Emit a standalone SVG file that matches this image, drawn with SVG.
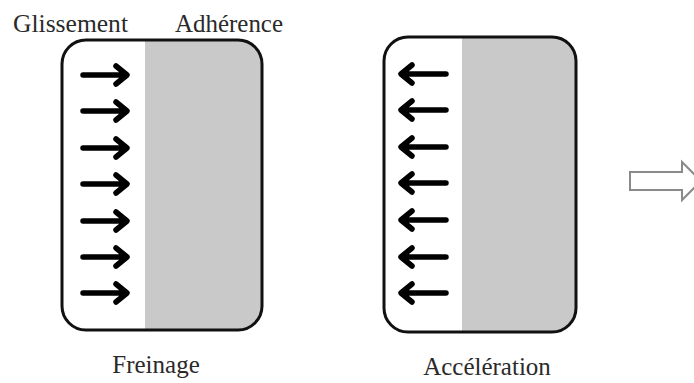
<svg xmlns="http://www.w3.org/2000/svg" width="694" height="383" viewBox="0 0 694 383">
<defs>
<style>
.lbl{font-family:"Liberation Serif","Times New Roman",serif;font-size:25px;fill:#2a2a2a}
.box{fill:none;stroke:#111;stroke-width:3}
.gray{fill:#c9c9c9}
.arr{fill:none;stroke:#000;stroke-width:5.5;stroke-linecap:round;stroke-linejoin:round}
.hollow{fill:#fff;stroke:#8a8a8a;stroke-width:2}
</style>
<clipPath id="c1"><rect x="62" y="40" width="200" height="290" rx="24"/></clipPath>
<clipPath id="c2"><rect x="384" y="37" width="192" height="295" rx="24"/></clipPath>
</defs>
<rect width="694" height="383" fill="#fff"/>
<g id="labels-top">
<text class="lbl" x="13" y="32" textLength="115" lengthAdjust="spacingAndGlyphs">Glissement</text>
<text class="lbl" x="175" y="32" textLength="108" lengthAdjust="spacingAndGlyphs">Adhérence</text>
</g>
<g id="freinage">
<rect class="gray" x="145" y="40" width="117" height="290" clip-path="url(#c1)"/>
<rect class="box" x="62" y="40" width="200" height="290" rx="24"/>
<g class="arr">
<path d="M83 75H126M116 66L127 75L116 84"/>
<path d="M83 111H126M116 102L127 111L116 120"/>
<path d="M83 148H126M116 139L127 148L116 157"/>
<path d="M83 184H126M116 175L127 184L116 193"/>
<path d="M83 221H126M116 212L127 221L116 230"/>
<path d="M83 257H126M116 248L127 257L116 266"/>
<path d="M83 293H126M116 284L127 293L116 302"/>
</g>
<text class="lbl" x="156" y="373" text-anchor="middle">Freinage</text>
</g>
<g id="acceleration">
<rect class="gray" x="462" y="37" width="114" height="295" clip-path="url(#c2)"/>
<rect class="box" x="384" y="37" width="192" height="295" rx="24"/>
<g class="arr">
<path d="M446 74H402M412 65L401 74L412 83"/>
<path d="M446 110H402M412 101L401 110L412 119"/>
<path d="M446 147H402M412 138L401 147L412 156"/>
<path d="M446 183H402M412 174L401 183L412 192"/>
<path d="M446 220H402M412 211L401 220L412 229"/>
<path d="M446 257H402M412 248L401 257L412 266"/>
<path d="M446 293H402M412 284L401 293L412 302"/>
</g>
<text class="lbl" x="487" y="375" text-anchor="middle">Accélération</text>
</g>
<g id="connectors">
<polygon class="hollow" points="630,172 682,172 682,162 701,181 682,200 682,190 630,190"/>
</g>
</svg>
